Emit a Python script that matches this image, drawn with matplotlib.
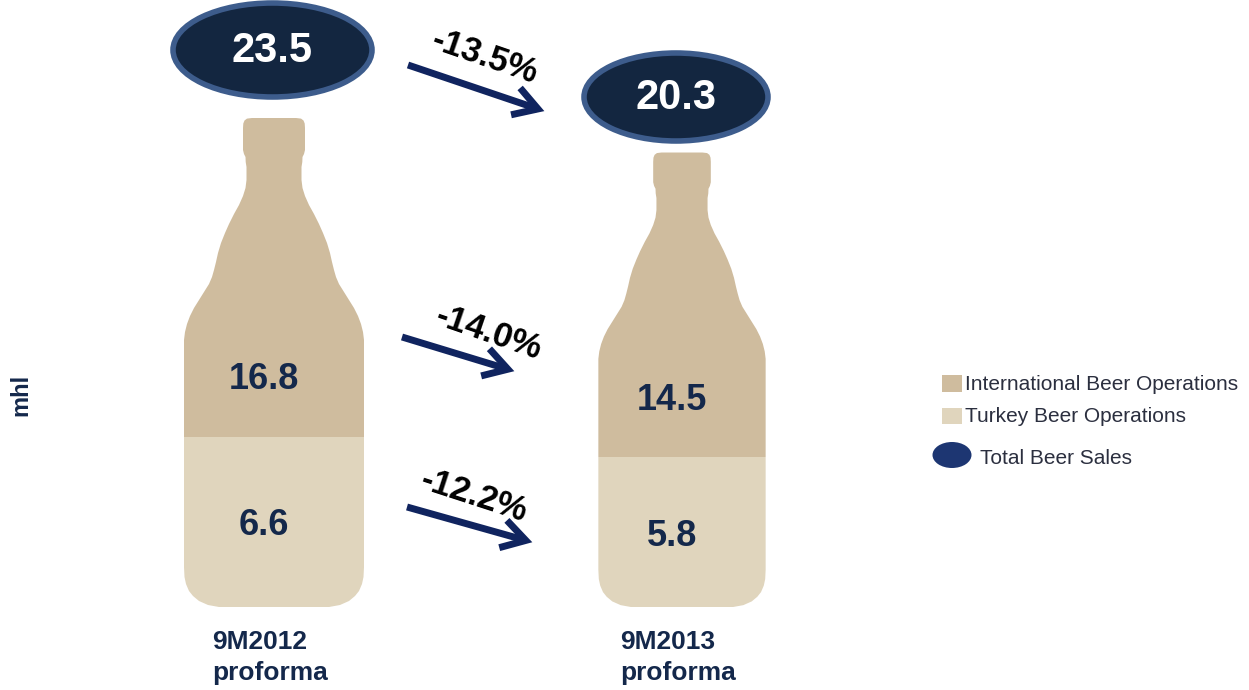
import numpy as np
import matplotlib
matplotlib.use("Agg")
import matplotlib.pyplot as plt
from matplotlib.path import Path
from matplotlib.patches import PathPatch, Ellipse, Rectangle, FancyArrowPatch

# ---------------- data ----------------
categories = ["9M2012\nproforma", "9M2013\nproforma"]
turkey = [6.6, 5.8]
international = [16.8, 14.5]
totals = [23.5, 20.3]
changes = ["-13.5%", "-14.0%", "-12.2%"]   # total, international, turkey
legend_labels = ["International Beer Operations", "Turkey Beer Operations", "Total Beer Sales"]
unit_label = "mhl"

# ---------------- style ----------------
C_INTL = "#cfbc9e"
C_TURKEY = "#e0d5bd"
C_NAVY = "#132640"
C_EDGE = "#3d5c8c"
C_ARROW = "#10245f"
C_TEXT = "#14284b"
C_LEG = "#2b2f3f"
W, H = 1249, 690
BOTTOM_PX = 607          # bottle base (pixels from top)
PX_PER_UNIT = 25.8       # vertical scale of the data axes
CENTERS_PX = [274, 682]  # bottle centres

fig = plt.figure(figsize=(W / 100, H / 100), dpi=100)

# data axes (mhl units) covering the whole figure
ax = fig.add_axes([0, 0, 1, 1])
ax.set_ylim((BOTTOM_PX - H) / PX_PER_UNIT, BOTTOM_PX / PX_PER_UNIT)
xunit = CENTERS_PX[1] - CENTERS_PX[0]
ax.set_xlim(-CENTERS_PX[0] / xunit, (W - CENTERS_PX[0]) / xunit)
ax.axis("off")

# pixel overlay axes for decorations
deco = fig.add_axes([0, 0, 1, 1])
deco.set_xlim(0, W)
deco.set_ylim(H, 0)
deco.axis("off")
deco.patch.set_alpha(0)

# bottle silhouette template: (half width, pixel row) for the largest bottle
profile_y = [118, 118.6, 120.5, 123.5, 128, 150, 154, 157, 162, 167, 180, 188, 196, 205, 214,
             224, 233, 243, 253, 262, 270, 277, 284, 292, 300, 308, 316, 324, 332, 340,
             567, 577, 584, 591, 596, 601, 605, 607]
profile_w = [22, 27, 29.5, 30.7, 31, 31, 30, 28.5, 28.3, 27.5, 27.5, 28.5, 31, 35, 40,
             45, 49, 53, 56, 58, 60, 62, 65, 70, 75, 80, 84, 87, 89, 90,
             90, 89.5, 88, 85, 81, 75, 66, 55]
prof_h = np.array([BOTTOM_PX - v for v in profile_y], dtype=float)
prof_w = np.array(profile_w, dtype=float)


def bottle_path(cx, s):
    xr = cx + s * prof_w
    yr = BOTTOM_PX - s * prof_h
    xs = np.concatenate([xr, (2 * cx - xr)[::-1]])
    ys = np.concatenate([yr, yr[::-1]])
    verts = np.column_stack([xs, ys])
    verts = np.vstack([verts, verts[:1]])
    codes = [Path.MOVETO] + [Path.LINETO] * (len(verts) - 2) + [Path.CLOSEPOLY]
    return Path(verts, codes)


x = np.arange(len(categories))
tmax = max(totals)
b1 = ax.bar(x, turkey, width=0.6, color=C_TURKEY, linewidth=0)
b2 = ax.bar(x, international, bottom=turkey, width=0.6, color=C_INTL, linewidth=0)
for i in range(len(categories)):
    s = np.sqrt(totals[i] / tmax)
    clip = PathPatch(bottle_path(CENTERS_PX[i], s), transform=deco.transData)
    b1[i].set_clip_path(clip)
    b2[i].set_clip_path(clip)
    # value labels
    ax.text(x[i] - 10 / xunit, turkey[i] / 2 - 4 / PX_PER_UNIT, f"{turkey[i]:.1f}",
            ha="center", va="center", fontsize=26, fontweight="bold", color=C_TEXT,
            family="Liberation Sans")
    ax.text(x[i] - 10 / xunit, turkey[i] + 57 / PX_PER_UNIT, f"{international[i]:.1f}",
            ha="center", va="center", fontsize=26, fontweight="bold", color=C_TEXT,
            family="Liberation Sans")
    # category labels
    deco.text(CENTERS_PX[i] - 62, 630, categories[i], ha="left", va="top", fontsize=19,
              fontweight="bold", color=C_TEXT, family="Liberation Sans", linespacing=1.38)

# total ellipses
ell = [(272.5, 50, 199, 94), (676, 97, 184, 88)]
for (ex, ey, ew, eh), t in zip(ell, totals):
    deco.add_patch(Ellipse((ex, ey), ew, eh, facecolor=C_NAVY, edgecolor=C_EDGE, linewidth=4))
    deco.text(ex, ey + 1, f"{t:.1f}", ha="center", va="center", fontsize=30,
              fontweight="bold", color="white", family="Liberation Sans")

# change arrows
arrows = [((408, 65), (547, 112)), ((402, 337), (517, 372)), ((407, 507), (535, 543))]
label_pos = [(485, 57, -19), (489, 333, -19), (474, 496, -18)]
for (p0, p1), (lx, ly, rot), txt in zip(arrows, label_pos, changes):
    deco.add_patch(FancyArrowPatch(p0, p1, arrowstyle="->,head_length=1.0,head_width=0.6",
                                   mutation_scale=17, color=C_ARROW, linewidth=5,
                                   shrinkA=0, shrinkB=2, joinstyle="miter", capstyle="butt"))
    deco.text(lx, ly, txt, ha="center", va="center", rotation=rot, rotation_mode="anchor",
              fontsize=25, fontweight="bold", color="black", family="Liberation Sans")

# unit label
deco.text(21, 395, unit_label, rotation=90, ha="center", va="center", fontsize=17,
          fontweight="bold", color=C_TEXT, family="Liberation Sans")

# legend
deco.add_patch(Rectangle((942, 375), 20, 17, facecolor=C_INTL, edgecolor="none"))
deco.add_patch(Rectangle((942, 408), 20, 16, facecolor=C_TURKEY, edgecolor="none"))
deco.add_patch(Ellipse((952, 455), 39, 26, facecolor="#1d3672", edgecolor="none"))
deco.text(965, 384, legend_labels[0], ha="left", va="center", fontsize=15, color=C_LEG,
          family="Liberation Sans")
deco.text(965, 416, legend_labels[1], ha="left", va="center", fontsize=15, color=C_LEG,
          family="Liberation Sans")
deco.text(980, 459, legend_labels[2], ha="left", va="center", fontsize=15, color=C_LEG,
          family="Liberation Sans")

fig.savefig("out.png", dpi=100, facecolor="white")
